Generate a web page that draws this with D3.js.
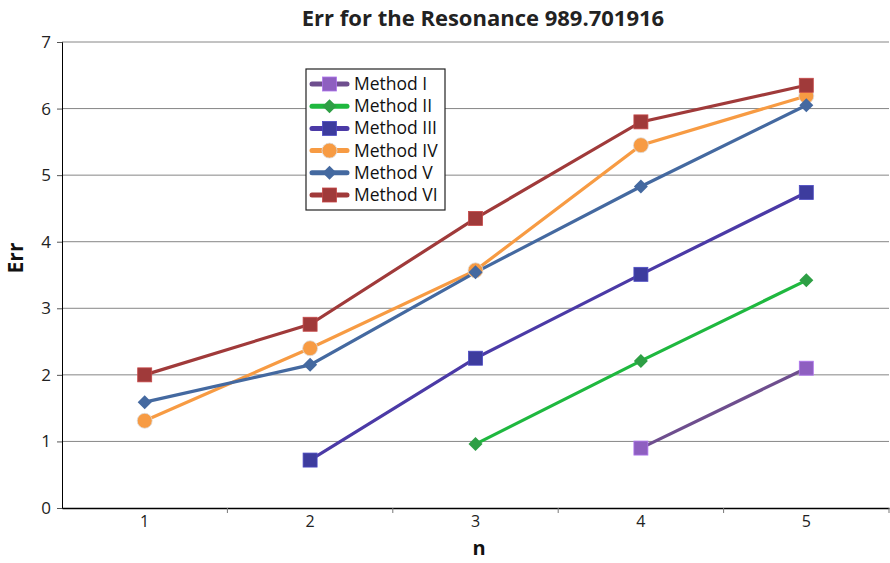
<!DOCTYPE html>
<html>
<head>
<meta charset="utf-8">
<script src="https://d3js.org/d3.v7.min.js"></script>
<style>
  body { margin: 0; background: #fff; }
  svg { font-family: "Open Sans", sans-serif; }
</style>
</head>
<body>
<svg id="chart" width="890" height="563"></svg>
<script>
// data
var categories = [1, 2, 3, 4, 5];
var yTicks = [0, 1, 2, 3, 4, 5, 6, 7];
var seriesNames = ["Method I", "Method II", "Method III", "Method IV", "Method V", "Method VI"];
var methodI   = [null, null, null, 0.90, 2.10];
var methodII  = [null, null, 0.96, 2.21, 3.42];
var methodIII = [null, 0.72, 2.25, 3.51, 4.74];
var methodIV  = [1.31, 2.40, 3.57, 5.45, 6.19];
var methodV   = [1.59, 2.15, 3.54, 4.83, 6.05];
var methodVI  = [2.00, 2.76, 4.35, 5.80, 6.35];

var series = [
  { name: seriesNames[0], values: methodI,   line: "#6E4E8E", fill: "#8E5FC0", shape: "square" },
  { name: seriesNames[1], values: methodII,  line: "#1FB83F", fill: "#2E9F45", shape: "diamond" },
  { name: seriesNames[2], values: methodIII, line: "#4B3AA6", fill: "#3D3C9E", shape: "square" },
  { name: seriesNames[3], values: methodIV,  line: "#F79B43", fill: "#F79B43", shape: "circle" },
  { name: seriesNames[4], values: methodV,   line: "#4469A0", fill: "#4469A0", shape: "diamond" },
  { name: seriesNames[5], values: methodVI,  line: "#A03A3A", fill: "#A03A3A", shape: "square" }
];

var svg = d3.select("#chart");
var margin = { top: 42, right: 1, bottom: 55, left: 62 };
var width = +svg.attr("width") - margin.left - margin.right;
var height = +svg.attr("height") - margin.top - margin.bottom;

var x = d3.scaleBand().domain(categories).range([0, width]);
var y = d3.scaleLinear().domain([0, 7]).range([height, 0]);

var g = svg.append("g").attr("transform", "translate(" + margin.left + "," + margin.top + ")");

// gridlines
g.selectAll("line.grid")
  .data(yTicks.slice(1))
  .enter().append("line")
  .attr("class", "grid")
  .attr("x1", 0).attr("x2", width)
  .attr("y1", function(d) { return y(d); })
  .attr("y2", function(d) { return y(d); })
  .attr("stroke", "#868686")
  .attr("stroke-width", 1);

// y axis
var yAxis = g.append("g")
  .call(d3.axisLeft(y).tickValues(yTicks).tickFormat(d3.format("d")).tickSize(5).tickPadding(6))
  .attr("font-size", 17).attr("font-family", "Open Sans, sans-serif");
yAxis.select(".domain").attr("stroke", "#000");
yAxis.selectAll(".tick line").attr("stroke", "#555");
yAxis.selectAll("text").attr("fill", "#222");

// x axis
var xAxis = g.append("g").attr("transform", "translate(0," + height + ")")
  .call(d3.axisBottom(x).tickSize(0).tickPadding(8))
  .attr("font-size", 16).attr("font-family", "Open Sans, sans-serif");
xAxis.select(".domain").attr("stroke", "#000").attr("stroke-width", 1.5);
xAxis.selectAll("text").attr("fill", "#222");
// boundary ticks between categories
g.selectAll("line.xtick")
  .data(categories)
  .enter().append("line")
  .attr("class", "xtick")
  .attr("x1", function(d) { return x(d) + x.bandwidth(); })
  .attr("x2", function(d) { return x(d) + x.bandwidth(); })
  .attr("y1", height).attr("y2", height + 5)
  .attr("stroke", "#777");

var cx = function(i) { return x(categories[i]) + x.bandwidth() / 2; };

var line = d3.line()
  .defined(function(d) { return d != null; })
  .x(function(d, i) { return cx(i); })
  .y(function(d) { return y(d); });

function drawMarker(sel, shape, fill, px, py) {
  if (shape === "square") {
    sel.append("rect").attr("x", px - 7).attr("y", py - 7).attr("width", 14).attr("height", 14)
      .attr("fill", fill).attr("stroke", d3.color(fill).brighter(0.6)).attr("stroke-width", 0.8);
  } else if (shape === "diamond") {
    sel.append("path").attr("d", "M" + px + "," + (py - 7) + "L" + (px + 7) + "," + py + "L" + px + "," + (py + 7) + "L" + (px - 7) + "," + py + "Z")
      .attr("fill", fill);
  } else {
    sel.append("circle").attr("cx", px).attr("cy", py).attr("r", 7.5)
      .attr("fill", fill).attr("stroke", "#ddd").attr("stroke-width", 0.8);
  }
}

series.forEach(function(s) {
  g.append("path").datum(s.values)
    .attr("d", line)
    .attr("fill", "none")
    .attr("stroke", s.line)
    .attr("stroke-width", 3.2);
});
series.forEach(function(s) {
  var mg = g.append("g");
  s.values.forEach(function(v, i) {
    if (v == null) return;
    drawMarker(mg, s.shape, s.fill, cx(i), y(v));
  });
});

// legend
var legend = svg.append("g").attr("transform", "translate(306,69)");
legend.append("rect").attr("width", 139).attr("height", 141)
  .attr("fill", "#fff").attr("stroke", "#222").attr("stroke-width", 1.2);
series.forEach(function(s, i) {
  var ly = 15 + i * 22.2;
  var row = legend.append("g");
  row.append("line").attr("x1", 6).attr("x2", 41).attr("y1", ly).attr("y2", ly)
    .attr("stroke", s.line).attr("stroke-width", 5).attr("stroke-linecap", "round");
  drawMarker(row, s.shape, s.fill, 23.5, ly);
  row.append("text").attr("x", 48).attr("y", ly + 6)
    .attr("font-size", 17.5).attr("fill", "#111").text(s.name);
});

// titles
svg.append("text").attr("x", 483).attr("y", 26).attr("text-anchor", "middle")
  .attr("font-size", 22).attr("font-weight", "bold").attr("fill", "#222")
  .text("Err for the Resonance 989.701916");
svg.append("text").attr("transform", "translate(23,258) rotate(-90)").attr("text-anchor", "middle")
  .attr("font-size", 21).attr("font-weight", "bold").attr("fill", "#111").text("Err");
svg.append("text").attr("x", 479).attr("y", 555).attr("text-anchor", "middle")
  .attr("font-size", 20).attr("font-weight", "bold").attr("fill", "#111").text("n");
</script>
</body>
</html>
